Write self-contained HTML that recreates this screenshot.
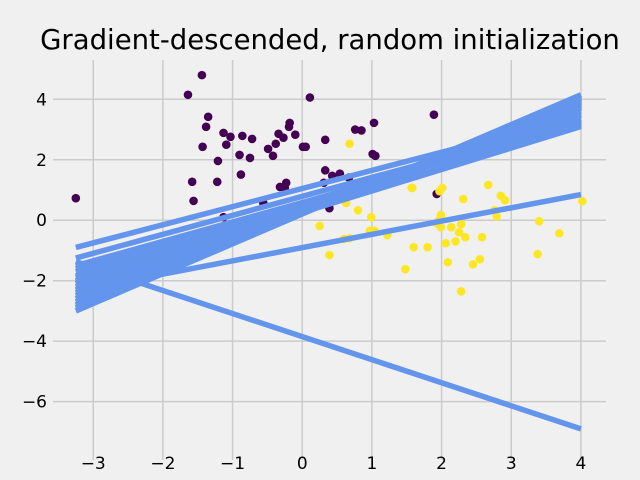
<!DOCTYPE html>
<html><head><meta charset="utf-8"><style>
html,body{margin:0;padding:0;background:#f0f0f0;}
svg{display:block;font-family:"DejaVu Sans","Liberation Sans",sans-serif;}
</style></head><body>
<svg id="chart" width="640" height="480" xmlns="http://www.w3.org/2000/svg">
<rect width="640" height="480" fill="#f0f0f0"/>
<text x="330" y="49" text-anchor="middle" font-size="27.5" fill="#000">Gradient-descended, random initialization</text>
<g id="grid"></g><g id="ticks"></g><g id="points"></g><g id="lines"></g>
</svg>
<script>
const xTicks=[-3,-2,-1,0,1,2,3,4];
const yTicks=[4,2,0,-2,-4,-6];
const purpleX=[-3.25,-1.44,-1.64,-1.35,-1.38,-1.43,-1.13,-1.09,-1.03,-0.86,-0.72,-1.21,-0.90,-0.75,-0.88,-1.58,-1.22,-1.56,-0.49,-0.42,-0.38,-0.34,-0.27,-0.18,-0.19,-0.10,0.01,0.05,0.33,0.11,0.76,0.85,1.03,1.01,1.05,1.89,0.33,0.43,0.54,0.67,0.31,-0.32,-0.25,-0.23,-0.56,0.39,1.93,-1.13];
const purpleY=[0.73,4.80,4.15,3.42,3.09,2.43,2.89,2.50,2.76,2.79,2.69,1.96,2.16,2.06,1.51,1.27,1.27,0.64,2.36,2.13,2.53,2.86,2.73,3.22,3.09,2.83,2.43,2.43,2.66,4.06,3.00,2.97,3.22,2.19,2.13,3.49,1.65,1.47,1.54,1.41,1.24,1.10,1.07,1.24,0.58,0.40,0.87,0.10];
const yellowX=[0.68,1.57,2.01,2.31,1.58,1.97,2.67,2.85,2.91,2.76,2.79,4.02,0.63,0.80,0.99,0.25,0.97,1.04,1.22,0.60,0.39,1.96,1.99,1.93,1.99,2.14,2.28,2.25,2.34,2.06,2.20,2.58,3.40,3.69,1.60,1.80,1.48,2.09,2.45,2.55,3.38,2.28,0.68,1.93];
const yellowY=[2.53,1.07,1.07,0.70,1.07,0.96,1.17,0.81,0.66,0.33,0.13,0.63,0.57,0.33,0.10,-0.19,-0.35,-0.35,-0.49,-0.62,-1.15,0.00,0.17,-0.10,-0.23,-0.23,-0.13,-0.40,-0.56,-0.76,-0.70,-0.56,-0.03,-0.43,-0.89,-0.89,-1.62,-1.39,-1.46,-1.29,-1.12,-2.35,-0.60,1.75];
const lineStartY=[-0.9,-1.25,-1.5,-1.6,-1.7,-1.85,-2.0,-2.1,-2.2,-2.3,-2.4,-2.5,-2.6,-2.7,-2.8,-2.9,-3.0,-2.05,-1.9,-2.33,-1.37];
const lineEndY=[3.45,3.3,3.15,3.25,3.35,3.5,3.6,3.7,3.75,3.8,3.85,3.9,3.95,4.0,4.05,4.1,4.15,3.1,3.2,0.85,-6.9];
const lineStartX=-3.25, lineEndX=4;
const X0=57,X1=606,Y0=60,Y1=460;
const xmin=-3.52,xmax=4.36,ymin=-7.93,ymax=5.30;
function sx(v){return X0+(v-xmin)/(xmax-xmin)*(X1-X0);}
function sy(v){return Y1-(v-ymin)/(ymax-ymin)*(Y1-Y0);}
const NS='http://www.w3.org/2000/svg';
function mk(tag,parent,attrs){const e=document.createElementNS(NS,tag);for(const k in attrs)e.setAttribute(k,attrs[k]);document.getElementById(parent).appendChild(e);return e;}
function fmt(v){return v<0?'\u2212'+(-v):''+v;}
xTicks.forEach(t=>{
  const g=mk('line','grid',{x1:sx(t),x2:sx(t),y1:Y0,y2:Y1,stroke:'#cbcbcb','stroke-width':1.5});
  
  
  const l=mk('text','ticks',{x:sx(t),y:469,'text-anchor':'middle','font-size':17,fill:'#000'});
  l.textContent=fmt(t);
  
  
});
yTicks.forEach(t=>{
  const g=mk('line','grid',{x1:53,x2:X1,y1:sy(t),y2:sy(t),stroke:'#cbcbcb','stroke-width':1.5});
  
  
  const l=mk('text','ticks',{x:47,y:sy(t)+6,'text-anchor':'end','font-size':17,fill:'#000'});
  l.textContent=fmt(t);
  
  
});
purpleX.forEach((v,i)=>{
  const c=mk('circle','points',{cx:sx(v),cy:sy(purpleY[i]),r:4.3,fill:'#440154'});
  
  
});
yellowX.forEach((v,i)=>{
  const c=mk('circle','points',{cx:sx(v),cy:sy(yellowY[i]),r:4.3,fill:'#fde725'});
  
  
});
lineStartY.forEach((v,i)=>{
  const l=mk('line','lines',{x1:sx(lineStartX),y1:sy(v),x2:sx(lineEndX),y2:sy(lineEndY[i]),stroke:'#6495ed','stroke-width':5.5});
  
  
});
</script>
</body></html>
